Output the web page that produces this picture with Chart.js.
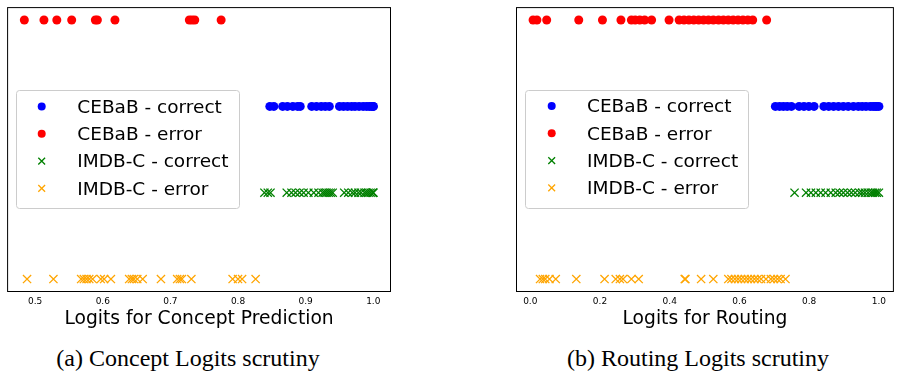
<!DOCTYPE html>
<html>
<head>
<meta charset="utf-8">
<script src="https://cdn.jsdelivr.net/npm/chart.js@4.4.1/dist/chart.umd.min.js"></script>
<style>
  body { margin: 0; background: #fff; width: 901px; height: 371px; position: relative; overflow: hidden; }
  .panel { position: absolute; top: 0; height: 340px; }
  .caption { position: absolute; top: 345px; line-height: 27px; font-family: "Liberation Serif", serif; font-size: 24px;
             white-space: nowrap; transform: translateX(-50%); color: #000; }
</style>
</head>
<body>
<div class="panel" style="left:0;width:400px"><canvas id="concept" width="400" height="340"></canvas></div>
<div class="panel" style="left:480px;width:421px"><canvas id="routing" width="421" height="340"></canvas></div>
<div class="caption" style="left:188px">(a) Concept Logits scrutiny</div>
<div class="caption" style="left:698px">(b) Routing Logits scrutiny</div>
<script>
/* DATA */
const seriesNames = ['CEBaB - correct', 'CEBaB - error', 'IMDB-C - correct', 'IMDB-C - error'];
const seriesRows = [2, 3, 1, 0];

const conceptCebabCorrect = [0.847, 0.853, 0.866, 0.873, 0.881, 0.888, 0.892, 0.909, 0.916, 0.923, 0.929, 0.935,
  0.950, 0.956, 0.962, 0.968, 0.973, 0.979, 0.985, 0.990, 0.994, 0.997, 1.0, 1.0];
const conceptCebabError = [0.484, 0.513, 0.532, 0.554, 0.589, 0.592, 0.618, 0.728, 0.732, 0.736, 0.775];
const conceptImdbCorrect = [0.839, 0.844, 0.848, 0.872, 0.879, 0.885, 0.891, 0.897, 0.904, 0.912, 0.919, 0.925,
  0.928, 0.931, 0.934, 0.937, 0.940, 0.957, 0.963, 0.969, 0.973, 0.978, 0.982, 0.987, 0.990, 0.993, 0.996,
  0.999, 1.0, 1.0];
const conceptImdbError = [0.488, 0.527, 0.568, 0.572, 0.576, 0.580, 0.585, 0.597, 0.602, 0.612, 0.639, 0.643,
  0.646, 0.651, 0.659, 0.686, 0.710, 0.714, 0.717, 0.731, 0.792, 0.800, 0.806, 0.826];

const routingCebabCorrect = [0.703, 0.715, 0.726, 0.737, 0.749, 0.771, 0.785, 0.799, 0.814, 0.842, 0.856, 0.870,
  0.884, 0.898, 0.912, 0.927, 0.941, 0.952, 0.963, 0.975, 0.983, 0.989, 0.994, 1.0];
const routingCebabError = [0.008, 0.019, 0.047, 0.139, 0.207, 0.260, 0.290, 0.301, 0.314, 0.328, 0.348, 0.398,
  0.427, 0.441, 0.455, 0.469, 0.483, 0.497, 0.511, 0.525, 0.540, 0.554, 0.568, 0.582, 0.596, 0.610, 0.624,
  0.638, 0.678];
const routingImdbCorrect = [0.758, 0.791, 0.805, 0.819, 0.833, 0.847, 0.862, 0.876, 0.887, 0.898, 0.910, 0.921,
  0.932, 0.944, 0.952, 0.960, 0.969, 0.977, 0.983, 0.989, 0.994, 1.0];
const routingImdbError = [0.028, 0.036, 0.043, 0.055, 0.073, 0.132, 0.213, 0.245, 0.257, 0.266, 0.290, 0.311,
  0.443, 0.445, 0.490, 0.525, 0.568, 0.577, 0.587, 0.596, 0.605, 0.615, 0.624, 0.633, 0.643, 0.652, 0.662,
  0.676, 0.690, 0.699, 0.709, 0.718, 0.732];

const conceptTicks = [0.5, 0.6, 0.7, 0.8, 0.9, 1.0];
const conceptTickLabels = ['0.5', '0.6', '0.7', '0.8', '0.9', '1.0'];
const routingTicks = [0.0, 0.2, 0.4, 0.6, 0.8, 1.0];
const routingTickLabels = ['0.0', '0.2', '0.4', '0.6', '0.8', '1.0'];

/* STYLE */
const seriesStyle = [
  { color: '#0000ff', marker: 'circle' },
  { color: '#ff0000', marker: 'circle' },
  { color: '#008000', marker: 'crossRot' },
  { color: '#ffa500', marker: 'crossRot' }
];

Chart.defaults.font.family = '"DejaVu Sans", sans-serif';
Chart.defaults.color = '#000';

/* PLOT FRAME + LEGEND BOX */
const frameBox = {
  id: 'frameBox',
  afterDraw(chart) {
    const a = chart.chartArea, ctx = chart.ctx;
    ctx.save();
    ctx.strokeStyle = '#000';
    ctx.lineWidth = 1;
    ctx.strokeRect(a.left + 0.5, a.top + 0.5, a.right - a.left - 1, a.bottom - a.top - 1);
    ctx.restore();
  }
};

const boxLegend = {
  id: 'boxLegend',
  afterDatasetsDraw(chart, args, opts) {
    const ctx = chart.ctx;
    ctx.save();
    ctx.beginPath();
    ctx.roundRect(opts.x + 0.5, opts.y + 0.5, opts.w, opts.h, 3);
    ctx.fillStyle = 'rgba(255,255,255,0.8)';
    ctx.fill();
    ctx.strokeStyle = '#cccccc';
    ctx.lineWidth = 1;
    ctx.stroke();
    ctx.font = '18.5px "DejaVu Sans"';
    ctx.textBaseline = 'middle';
    chart.data.datasets.forEach((ds, i) => {
      const y = opts.rowY + i * opts.rowGap;
      ctx.fillStyle = ds.backgroundColor;
      ctx.strokeStyle = ds.borderColor;
      ctx.lineWidth = ds.borderWidth;
      Chart.helpers.drawPoint(ctx, {
        pointStyle: ds.pointStyle,
        radius: ds.pointStyle === 'circle' ? 4 : 4.8,
        borderWidth: ds.borderWidth,
        rotation: 0
      }, opts.markX, y);
      ctx.fillStyle = '#000';
      ctx.fillText(ds.label, opts.textX, y + 1.5);
    });
    ctx.restore();
  }
};

function makeChart(id, series, xMin, xMax, ticks, tickLabels, title, pad, legend) {
  const datasets = series.map((vals, i) => ({
    label: seriesNames[i],
    data: vals.map(v => ({ x: v, y: seriesRows[i] })),
    pointStyle: seriesStyle[i].marker,
    backgroundColor: seriesStyle[i].color,
    borderColor: seriesStyle[i].color,
    borderWidth: seriesStyle[i].marker === 'circle' ? 0 : 1.3,
    pointRadius: seriesStyle[i].marker === 'circle' ? 4.5 : 5.8,
    pointHoverRadius: 5
  }));
  return new Chart(document.getElementById(id), {
    type: 'scatter',
    data: { datasets },
    options: {
      responsive: false,
      animation: false,
      layout: { padding: pad },
      plugins: { legend: { display: false }, tooltip: { enabled: false }, boxLegend: legend },
      scales: {
        x: {
          type: 'linear', min: xMin, max: xMax,
          afterBuildTicks: s => { s.ticks = ticks.map(v => ({ value: v })); },
          afterFit: s => { s.height = 48; },
          ticks: { callback: (v, i) => tickLabels[i], font: { size: 9 }, color: '#000', padding: 4.5,
                   maxRotation: 0, autoSkip: false },
          grid: { display: false, drawTicks: false },
          border: { display: false },
          title: { display: true, text: title, font: { size: 18.7 }, color: '#000', padding: { top: 0, bottom: 10 } }
        },
        y: { type: 'linear', display: false, min: -0.15, max: 3.15 }
      }
    },
    plugins: [frameBox, boxLegend]
  });
}

makeChart('concept',
  [conceptCebabCorrect, conceptCebabError, conceptImdbCorrect, conceptImdbError],
  0.4585, 1.0262, conceptTicks, conceptTickLabels, 'Logits for Concept Prediction',
  { left: 6, top: 5, right: 9, bottom: 0 },
  { x: 16, y: 90, w: 223, h: 118, markX: 41.7, textX: 77.3, rowY: 106.5, rowGap: 27.3 });

makeChart('routing',
  [routingCebabCorrect, routingCebabError, routingImdbCorrect, routingImdbError],
  -0.041, 1.043, routingTicks, routingTickLabels, 'Logits for Routing',
  { left: 36, top: 5, right: 2, bottom: 0 },
  { x: 45, y: 90, w: 223, h: 118, markX: 71.7, textX: 107, rowY: 106, rowGap: 27.3 });
</script>
</body>
</html>
